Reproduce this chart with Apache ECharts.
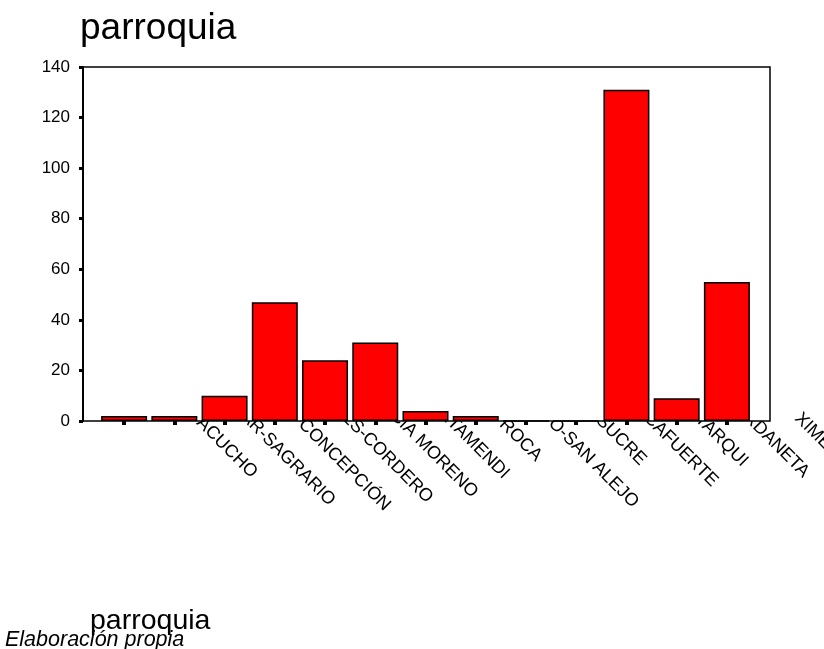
<!DOCTYPE html>
<html>
<head>
<meta charset="utf-8">
<style>
  html, body { margin: 0; padding: 0; background: #fff; }
  #chart { width: 824px; height: 649px; }
</style>
<script src="https://cdn.jsdelivr.net/npm/echarts@6/dist/echarts.min.js"></script>
</head>
<body>
<div id="chart"></div>
<script>
// ---- data ----
const chartTitle = 'parroquia';
const axisTitle = 'parroquia';
const sourceNote = 'Elaboración propia';
const categories = ['AYACUCHO', 'BOLIVAR-SAGRARIO', 'CARBO-CONCEPCIÓN', 'FEBRES-CORDERO', 'GARCÍA MORENO', 'LETAMENDI', 'ROCA', 'OLMEDO-SAN ALEJO', 'SUCRE', 'ROCAFUERTE', 'TARQUI', 'URDANETA', 'XIMENA'];
const counts = [2, 2, 10, 47, 24, 31, 4, 2, 0, 0, 131, 9, 55];
const yMin = 0, yMax = 140, yStep = 20;

const FONT = '"Liberation Sans", Arial, sans-serif';
const chart = echarts.init(document.getElementById('chart'), null, { renderer: 'canvas' });

const option = {
  backgroundColor: '#ffffff',
  animation: false,
  title: [
    { text: chartTitle, left: 75, top: 5, textStyle: { fontFamily: FONT, fontSize: 37, fontWeight: 'normal', color: '#000' } },
    { text: axisTitle, left: 85, top: 602, textStyle: { fontFamily: FONT, fontSize: 28.5, fontWeight: 'normal', color: '#000' } },
    { text: sourceNote, left: 0, top: 624, textStyle: { fontFamily: FONT, fontSize: 21.5, fontStyle: 'italic', fontWeight: 'normal', color: '#000' } }
  ],
  grid: [
    { // frame
      left: 83, top: 67, width: 687, height: 354,
      show: true, backgroundColor: '#ffffff', borderColor: '#000', borderWidth: 1.5,
      z: 1, outerBoundsMode: 'none', containLabel: false
    },
    { // bars
      left: 99, top: 67, width: 653, height: 354,
      show: false, z: 2, outerBoundsMode: 'none', containLabel: false
    }
  ],
  xAxis: [
    { gridIndex: 0, type: 'value', show: false, min: 0, max: 1 },
    {
      gridIndex: 1, type: 'category', data: categories, z: 0,
      axisLine: { show: false },
      axisTick: { show: true, alignWithLabel: true, length: 4, lineStyle: { color: '#000', width: 4 } },
      axisLabel: {
        show: true, interval: 0, rotate: -45, margin: -76,
        align: 'center', verticalAlign: 'middle',
        padding: [0, 0, 0, 269],
        fontFamily: FONT, fontSize: 18, color: '#000'
      }
    }
  ],
  yAxis: [
    {
      gridIndex: 0, type: 'value', min: yMin, max: yMax, interval: yStep, z: 3,
      axisLine: { show: true, lineStyle: { color: '#000', width: 2 } },
      axisTick: { show: true, length: 4, lineStyle: { color: '#000', width: 3 } },
      axisLabel: { margin: 13, fontFamily: FONT, fontSize: 17, color: '#000' },
      splitLine: { show: false }
    },
    { gridIndex: 1, type: 'value', min: yMin, max: yMax, interval: yStep, show: false, splitLine: { show: false } }
  ],
  series: [
    {
      type: 'bar', xAxisIndex: 1, yAxisIndex: 1, z: 2,
      data: counts,
      barWidth: 46,
      itemStyle: { color: '#ff0000', borderColor: '#000', borderWidth: 1.5 }
    }
  ]
};
chart.setOption(option);
</script>
</body>
</html>
